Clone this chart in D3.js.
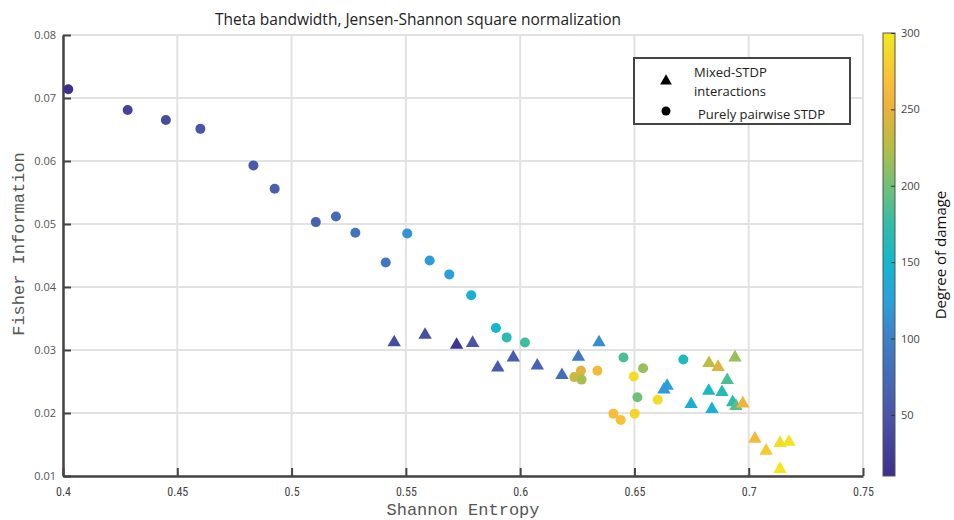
<!DOCTYPE html>
<html>
<head>
<meta charset="utf-8">
<script src="https://cdn.jsdelivr.net/npm/d3@7"></script>
<style>
  html, body { margin: 0; padding: 0; background: #fff; }
  svg { display: block; }
</style>
</head>
<body>
<svg id="chart" width="954" height="520"></svg>
<script>
// Purely pairwise STDP runs (circles)
const pairEntropy = [0.4023, 0.4283, 0.4450, 0.4601, 0.4833, 0.4926, 0.5106, 0.5194, 0.5279, 0.5412,
  0.5506, 0.5604, 0.5690, 0.5786, 0.5894, 0.5941, 0.6021, 0.6452, 0.6714, 0.6538,
  0.6513, 0.6266, 0.6237, 0.6269, 0.6338, 0.6408, 0.6440, 0.6497, 0.6501, 0.6602];
const pairFisher = [0.0714, 0.0681, 0.0665, 0.0651, 0.0593, 0.0556, 0.0503, 0.0512, 0.0486, 0.0439,
  0.0485, 0.0442, 0.0420, 0.0387, 0.0335, 0.0320, 0.0312, 0.0288, 0.0285, 0.0271,
  0.0225, 0.0267, 0.0257, 0.0253, 0.0267, 0.0199, 0.0189, 0.0258, 0.0199, 0.0221];
const pairDamage = [10, 30, 40, 50, 55, 60, 65, 75, 85, 90,
  115, 120, 125, 140, 150, 170, 180, 185, 160, 215,
  200, 245, 235, 220, 260, 265, 270, 290, 285, 290];

// Mixed-STDP interaction runs (triangles)
const mixedEntropy = [0.5449, 0.5584, 0.5722, 0.5792, 0.5902, 0.5970, 0.6075, 0.6183, 0.6255, 0.6345,
  0.6643, 0.6629, 0.6748, 0.6839, 0.6825, 0.6883, 0.6930, 0.6906, 0.6940, 0.6826,
  0.6866, 0.6944, 0.6974, 0.7027, 0.7076, 0.7137, 0.7176, 0.7137];
const mixedFisher = [0.0312, 0.0324, 0.0308, 0.0311, 0.0272, 0.0288, 0.0275, 0.0260, 0.0289, 0.0312,
  0.0243, 0.0237, 0.0214, 0.0206, 0.0235, 0.0233, 0.0217, 0.0252, 0.0288, 0.0279,
  0.0273, 0.0211, 0.0215, 0.0159, 0.0140, 0.0152, 0.0154, 0.0111];
const mixedDamage = [40, 45, 15, 50, 55, 60, 65, 80, 90, 110,
  125, 120, 140, 145, 155, 165, 170, 185, 215, 230,
  245, 190, 255, 260, 275, 290, 295, 300];

// Axis ticks and colour range
const xTicks = [0.4, 0.45, 0.5, 0.55, 0.6, 0.65, 0.7, 0.75];
const xTickLabels = ["0.4", "0.45", "0.5", "0.55", "0.6", "0.65", "0.7", "0.75"];
const yTicks = [0.01, 0.02, 0.03, 0.04, 0.05, 0.06, 0.07, 0.08];
const yTickLabels = ["0.01", "0.02", "0.03", "0.04", "0.05", "0.06", "0.07", "0.08"];
const damageTicks = [50, 100, 150, 200, 250, 300];
const damageRange = [10, 300];

const titleText = "Theta bandwidth, Jensen-Shannon square normalization";
const xTitle = "Shannon Entropy";
const yTitle = "Fisher Information";
const colorTitle = "Degree of damage";
const legendLabels = [["Mixed-STDP", "interactions"], ["Purely pairwise STDP"]];

// Parula-like colour ramp, anchored at damage levels
const rampDomain = [10, 50, 100, 125, 150, 175, 200, 225, 250, 265, 300];
const rampColors = ["#3d2f8c", "#4a55a8", "#3f80c6", "#2aa0db", "#12b8cc", "#33bca8",
  "#72c078", "#b5bd45", "#eab23a", "#f9bb3a", "#f3e81e"];
const color = d3.scaleLinear().domain(rampDomain).range(rampColors)
  .interpolate(d3.interpolateRgb).clamp(true);

const svg = d3.select("#chart");
const plotLeft = 63, plotRight = 863, plotTop = 35, plotBottom = 476;

const x = d3.scaleLinear().domain([0.4, 0.75]).range([plotLeft, plotRight]);
const y = d3.scaleLinear().domain([0.01, 0.08]).range([plotBottom, plotTop]);

// Grid
const grid = svg.append("g");
grid.selectAll("line.v").data(xTicks).join("line").attr("class", "v")
  .attr("x1", d => x(d)).attr("x2", d => x(d))
  .attr("y1", plotTop).attr("y2", plotBottom)
  .attr("stroke", "#e2e2e2").attr("stroke-width", 2);
grid.selectAll("line.h").data(yTicks).join("line").attr("class", "h")
  .attr("x1", plotLeft).attr("x2", plotRight)
  .attr("y1", d => y(d)).attr("y2", d => y(d))
  .attr("stroke", "#e2e2e2").attr("stroke-width", 2);

// Axes
const xAxis = d3.axisBottom(x).tickValues(xTicks)
  .tickFormat((d, i) => xTickLabels[i]).tickSizeInner(-8).tickSizeOuter(0).tickPadding(11);
const gx = svg.append("g").attr("transform", `translate(0,${plotBottom})`).call(xAxis);
gx.select(".domain").attr("stroke", "#444").attr("stroke-width", 2.5);
gx.selectAll(".tick line").attr("stroke", "#444").attr("stroke-width", 2);
gx.selectAll(".tick text")
  .attr("font-family", "'Liberation Sans Narrow', 'Roboto Condensed', 'Arial Narrow', sans-serif")
  .attr("font-size", 12).attr("fill", "#444");

const yAxis = d3.axisLeft(y).tickValues(yTicks)
  .tickFormat((d, i) => yTickLabels[i]).tickSizeInner(-8).tickSizeOuter(0).tickPadding(7);
const gy = svg.append("g").attr("transform", `translate(${plotLeft},0)`).call(yAxis);
gy.select(".domain").attr("stroke", "#444").attr("stroke-width", 2.5);
gy.selectAll(".tick line").attr("stroke", "#444").attr("stroke-width", 2);
gy.selectAll(".tick text")
  .attr("font-family", "'Open Sans', sans-serif")
  .attr("font-size", 11).attr("fill", "#555");

// Points
const pairs = pairEntropy.map((e, i) => ({ e, f: pairFisher[i], d: pairDamage[i] }));
const mixed = mixedEntropy.map((e, i) => ({ e, f: mixedFisher[i], d: mixedDamage[i] }));

svg.append("g").selectAll("circle").data(pairs).join("circle")
  .attr("cx", d => x(d.e)).attr("cy", d => y(d.f)).attr("r", 5)
  .attr("fill", d => color(d.d));

const tri = d3.symbol().type(d3.symbolTriangle).size(78);
svg.append("g").selectAll("path").data(mixed).join("path")
  .attr("d", tri)
  .attr("transform", d => `translate(${x(d.e)},${y(d.f)})`)
  .attr("fill", d => color(d.d));

// Title and axis titles
svg.append("text").attr("x", 418).attr("y", 25).attr("text-anchor", "middle")
  .attr("font-family", "'Open Sans', sans-serif").attr("font-size", 15.5).attr("fill", "#222")
  .text(titleText);
svg.append("text").attr("x", (plotLeft + plotRight) / 2).attr("y", 515).attr("text-anchor", "middle")
  .attr("font-family", "'Liberation Mono', 'DejaVu Sans Mono', monospace").attr("font-size", 17)
  .attr("fill", "#555").text(xTitle);
svg.append("text").attr("transform", "translate(24,244) rotate(-90)")
  .attr("text-anchor", "middle")
  .attr("font-family", "'Liberation Mono', 'DejaVu Sans Mono', monospace").attr("font-size", 17)
  .attr("fill", "#555").text(yTitle);

// Legend
const lg = svg.append("g");
lg.append("rect").attr("x", 634).attr("y", 58).attr("width", 216).attr("height", 66)
  .attr("fill", "#fff").attr("stroke", "#444").attr("stroke-width", 2);
lg.append("path").attr("d", d3.symbol().type(d3.symbolTriangle).size(60))
  .attr("transform", "translate(666,81)").attr("fill", "#000");
lg.append("circle").attr("cx", 666).attr("cy", 111).attr("r", 4.5).attr("fill", "#000");
lg.append("text").attr("x", 694).attr("y", 77)
  .attr("font-family", "'Open Sans', sans-serif").attr("font-size", 13).attr("fill", "#222")
  .text(legendLabels[0][0]);
lg.append("text").attr("x", 694).attr("y", 96)
  .attr("font-family", "'Open Sans', sans-serif").attr("font-size", 13).attr("fill", "#222")
  .text(legendLabels[0][1]);
lg.append("text").attr("x", 698).attr("y", 119)
  .attr("font-family", "'Open Sans', sans-serif").attr("font-size", 13).attr("fill", "#222")
  .text(legendLabels[1][0]);

// Colour bar
const cbX = 883, cbW = 12;
const cbScale = d3.scaleLinear().domain(damageRange).range([plotBottom, 33]);
const defs = svg.append("defs");
const grad = defs.append("linearGradient").attr("id", "damageGrad")
  .attr("x1", 0).attr("y1", 1).attr("x2", 0).attr("y2", 0);
rampDomain.forEach((v, i) => {
  grad.append("stop")
    .attr("offset", (v - damageRange[0]) / (damageRange[1] - damageRange[0]))
    .attr("stop-color", rampColors[i]);
});
svg.append("rect").attr("x", cbX).attr("y", cbScale(damageRange[1]))
  .attr("width", cbW).attr("height", cbScale(damageRange[0]) - cbScale(damageRange[1]))
  .attr("fill", "url(#damageGrad)").attr("stroke", "#555").attr("stroke-width", 1);
const cAxis = d3.axisRight(cbScale).tickValues(damageTicks).tickSizeInner(-4).tickSizeOuter(0).tickPadding(6);
const gc = svg.append("g").attr("transform", `translate(${cbX + cbW},0)`).call(cAxis);
gc.select(".domain").remove();
gc.selectAll(".tick line").attr("stroke", "#333").attr("stroke-width", 1);
gc.selectAll(".tick text").attr("font-family", "'Open Sans', sans-serif")
  .attr("font-size", 11).attr("fill", "#444");
svg.append("text").attr("transform", "translate(946,255) rotate(-90)")
  .attr("text-anchor", "middle")
  .attr("font-family", "'Open Sans', sans-serif").attr("font-size", 15).attr("fill", "#111")
  .text(colorTitle);
</script>
</body>
</html>
